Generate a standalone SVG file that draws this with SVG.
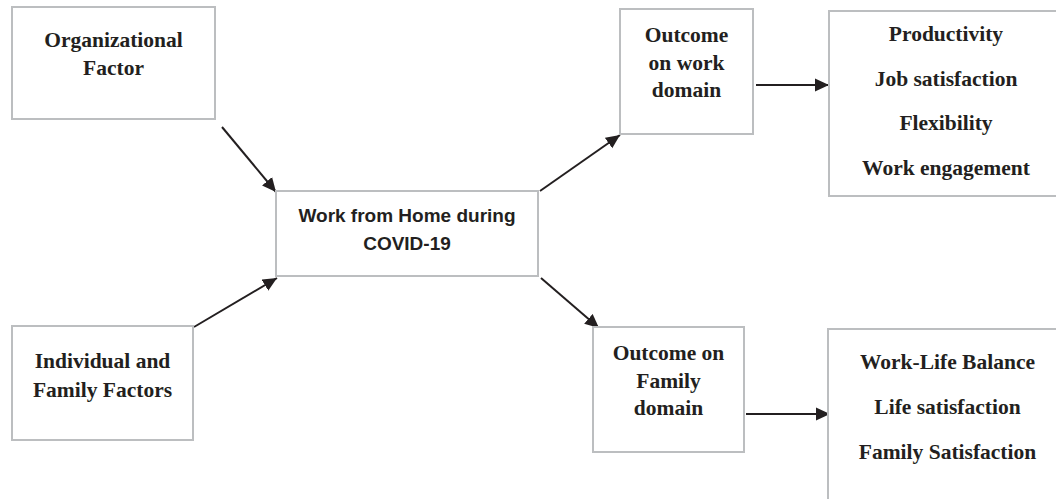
<svg xmlns="http://www.w3.org/2000/svg" width="1056" height="499" viewBox="0 0 1056 499">
<style>
.box{fill:#fff;stroke:#bcbec0;stroke-width:2}
.t{font-family:"Liberation Serif","Times New Roman",serif;font-weight:bold;font-size:21.5px;fill:#231f20;text-anchor:middle}
.s{font-family:"Liberation Sans",Arial,sans-serif;font-weight:bold;font-size:19px;fill:#231f20;text-anchor:middle}
.c{stroke:#231f20;stroke-width:2;fill:none;marker-end:url(#ah)}
</style>
<defs>
<marker id="ah" viewBox="0 0 14 14" refX="14" refY="7" markerWidth="14" markerHeight="14" markerUnits="userSpaceOnUse" orient="auto">
<path d="M0,0.5 L14,7 L0,13.5 Z" fill="#231f20"/>
</marker>
</defs>
<rect width="1056" height="499" fill="#fff"/>
<g id="connectors">
<line class="c" x1="222" y1="127" x2="276" y2="192"/>
<line class="c" x1="194" y1="327" x2="277" y2="278"/>
<line class="c" x1="540" y1="191" x2="620" y2="135"/>
<line class="c" x1="541" y1="278" x2="599" y2="328"/>
<line class="c" x1="756" y1="85" x2="829" y2="85"/>
<line class="c" x1="746" y1="414" x2="830" y2="414"/>
</g>
<g id="org">
<rect class="box" x="12" y="7" width="203" height="112"/>
<text class="t" x="113.5" y="47">Organizational</text>
<text class="t" x="113.5" y="75">Factor</text>
</g>
<g id="indiv">
<rect class="box" x="12" y="326" width="181" height="114"/>
<text class="t" x="102.5" y="368">Individual and</text>
<text class="t" x="102.5" y="396.5">Family Factors</text>
</g>
<g id="wfh">
<rect class="box" x="276" y="191" width="262" height="85"/>
<text class="s" x="407" y="221.5">Work from Home during</text>
<text class="s" x="407" y="250">COVID-19</text>
</g>
<g id="work">
<rect class="box" x="620" y="9" width="133" height="125"/>
<text class="t" x="686.5" y="42">Outcome</text>
<text class="t" x="686.5" y="70">on work</text>
<text class="t" x="686.5" y="97">domain</text>
</g>
<g id="family">
<rect class="box" x="593" y="327" width="151" height="125"/>
<text class="t" x="668.5" y="360">Outcome on</text>
<text class="t" x="668.5" y="388">Family</text>
<text class="t" x="668.5" y="415">domain</text>
</g>
<g id="workout">
<rect class="box" x="829" y="11" width="240" height="185"/>
<text class="t" x="946" y="41">Productivity</text>
<text class="t" x="946" y="86">Job satisfaction</text>
<text class="t" x="946" y="130">Flexibility</text>
<text class="t" x="946" y="175">Work engagement</text>
</g>
<g id="familyout">
<rect class="box" x="828" y="329" width="240" height="190"/>
<text class="t" x="947.5" y="369">Work-Life Balance</text>
<text class="t" x="947.5" y="414">Life satisfaction</text>
<text class="t" x="947.5" y="459">Family Satisfaction</text>
</g>
</svg>
